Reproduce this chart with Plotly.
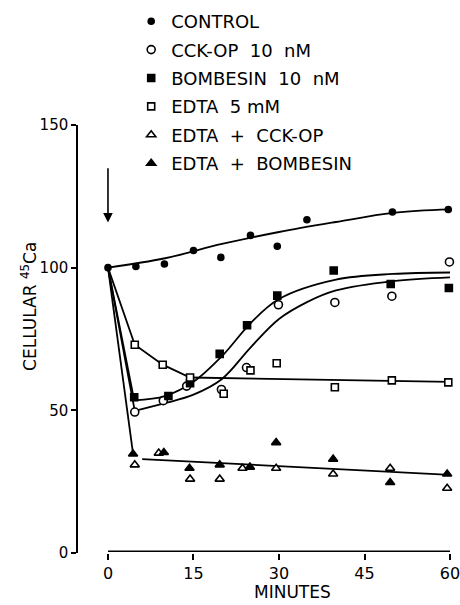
import plotly.graph_objects as go

# ---------------- data ----------------
ctrl_t = [0, 4.9, 9.9, 15.0, 19.8, 25.0, 29.7, 34.9, 49.9, 59.7]
ctrl_v = [100, 100.4, 101.3, 106.0, 103.6, 111.3, 107.5, 116.8, 119.5, 120.4]

cck_t = [4.7, 9.7, 13.8, 19.9, 24.3, 29.9, 39.8, 49.8, 59.9]
cck_v = [49.4, 53.4, 58.5, 57.3, 65.0, 87.0, 87.8, 90.0, 102.0]

bomb_t = [4.6, 10.6, 14.4, 19.6, 24.4, 29.7, 39.6, 49.6, 59.8]
bomb_v = [54.6, 55.0, 59.5, 69.8, 79.8, 90.2, 99.0, 94.3, 92.9]

edta_t = [4.7, 9.6, 14.4, 20.3, 25.0, 29.6, 39.8, 49.8, 59.7]
edta_v = [73.0, 66.0, 61.5, 55.8, 64.0, 66.5, 58.1, 60.5, 59.8]

ecck_t = [4.7, 8.9, 14.4, 19.6, 23.6, 29.5, 39.5, 49.5, 59.5]
ecck_v = [30.9, 35.0, 25.9, 25.9, 29.7, 29.7, 27.7, 29.7, 22.7]

ebomb_t = [4.4, 9.8, 14.3, 19.6, 24.9, 29.5, 39.5, 49.5, 59.5]
ebomb_v = [34.7, 35.2, 29.7, 30.9, 30.1, 38.7, 32.9, 24.7, 27.7]

# fitted curves (knots)
ctrl_fit_t = [0, 10, 20, 30, 40, 50, 60]
ctrl_fit_v = [100, 103.3, 108.3, 112.5, 116.0, 119.2, 120.4]

cck_drop_t = [0, 4.7]
cck_drop_v = [100, 49.8]
cck_fit_t = [4.7, 10, 15, 20, 25, 30, 35, 40, 50, 60]
cck_fit_v = [49.8, 52.5, 55.5, 61.0, 72.0, 82.0, 88.0, 92.0, 95.3, 96.6]

bomb_drop_t = [0, 4.6]
bomb_drop_v = [100, 53.5]
bomb_fit_t = [4.6, 10, 15, 20, 25, 30, 40, 50, 60]
bomb_fit_v = [53.5, 55.0, 60.0, 69.0, 80.5, 89.0, 95.8, 97.8, 98.3]

edta_fit_t = [0, 4.7, 9.6, 14.4, 60]
edta_fit_v = [100, 73.0, 66.0, 61.5, 60.0]

tri_drop_t = [0, 4.4]
tri_drop_v = [100, 34.7]
tri_fit_t = [6.0, 60]
tri_fit_v = [32.9, 27.4]

x_ticks = [0, 15, 30, 45, 60]
y_ticks = [0, 50, 100, 150]

labels = ["CONTROL", "CCK-OP  10  nM", "BOMBESIN  10  nM", "EDTA  5 mM",
          "EDTA  +  CCK-OP", "EDTA  +  BOMBESIN"]

FONT = "DejaVu Sans"
fig = go.Figure()

LW = 1.8
def line(t, v, shape="linear"):
    fig.add_trace(go.Scatter(x=t, y=v, mode="lines", showlegend=False,
                             hoverinfo="skip", cliponaxis=False,
                             line=dict(color="black", width=LW, shape=shape, smoothing=1.0)))

line(ctrl_fit_t, ctrl_fit_v, "spline")
line(cck_drop_t, cck_drop_v)
line(cck_fit_t, cck_fit_v, "spline")
line(bomb_drop_t, bomb_drop_v)
line(bomb_fit_t, bomb_fit_v, "spline")
line(edta_fit_t, edta_fit_v)
line(tri_drop_t, tri_drop_v)
line(tri_fit_t, tri_fit_v)

def pts(t, v, name, symbol, fill, size):
    fig.add_trace(go.Scatter(x=t, y=v, mode="markers", name=name, cliponaxis=False,
                             legendgroup=name,
                             marker=dict(symbol=symbol, size=size, color=fill,
                                         line=dict(color="black", width=1.6))))

pts(ctrl_t, ctrl_v, labels[0], "circle", "black", 6)
pts(cck_t, cck_v, labels[1], "circle", "white", 8)
pts(bomb_t, bomb_v, labels[2], "square", "black", 7)
pts(edta_t, edta_v, labels[3], "square", "white", 7)
pts(ecck_t, ecck_v, labels[4], "triangle-up", "white", 8)
pts(ebomb_t, ebomb_v, labels[5], "triangle-up", "black", 8)

# x-axis line only from 0 to 60
fig.add_shape(type="line", xref="x", yref="y", x0=0, x1=60, y0=0.6, y1=0.6,
              line=dict(color="black", width=1.5))

# arrow at time 0
fig.add_annotation(x=0, y=115.8, ax=0, ay=135.4, xref="x", yref="y",
                   axref="x", ayref="y", showarrow=True, arrowhead=2,
                   arrowsize=1.2, arrowwidth=1.6, arrowcolor="black", text="")

fig.add_annotation(text="CELLULAR <sup>45</sup>Ca", textangle=-90,
                   xref="paper", yref="paper", x=-0.132, y=0.577,
                   xanchor="center", yanchor="middle", showarrow=False,
                   font=dict(family=FONT, size=17, color="black"))
fig.add_annotation(text="MINUTES", xref="x", yref="paper", x=32.3, y=-0.091,
                   xanchor="center", yanchor="middle", showarrow=False,
                   font=dict(family=FONT, size=17, color="black"))

fig.update_layout(
    width=460, height=605,
    margin=dict(l=78, r=10, t=125, b=52, autoexpand=False),
    paper_bgcolor="white", plot_bgcolor="white",
    font=dict(family=FONT, color="black"),
    legend=dict(x=0.143, y=1.285, xanchor="left", yanchor="top",
                font=dict(family=FONT, size=18), tracegroupgap=2,
                bgcolor="rgba(0,0,0,0)", itemwidth=30),
    xaxis=dict(range=[-5.26, 60], tickvals=x_ticks, ticks="outside", ticklen=6,
               tickwidth=1.5, tickcolor="black", showline=False, showgrid=False,
               zeroline=False, ticklabeloverflow="allow",
               tickfont=dict(family=FONT, size=16)),
    yaxis=dict(range=[0, 150], tickvals=y_ticks, ticks="outside", ticklen=5,
               tickwidth=1.5, tickcolor="black", showline=True, linecolor="black",
               linewidth=1.5, showgrid=False, zeroline=False,
               tickfont=dict(family=FONT, size=15)),
)

fig.write_html("out.html", config={"displayModeBar": False},
               post_script="document.body.style.margin='0';document.body.style.overflow='hidden';")
